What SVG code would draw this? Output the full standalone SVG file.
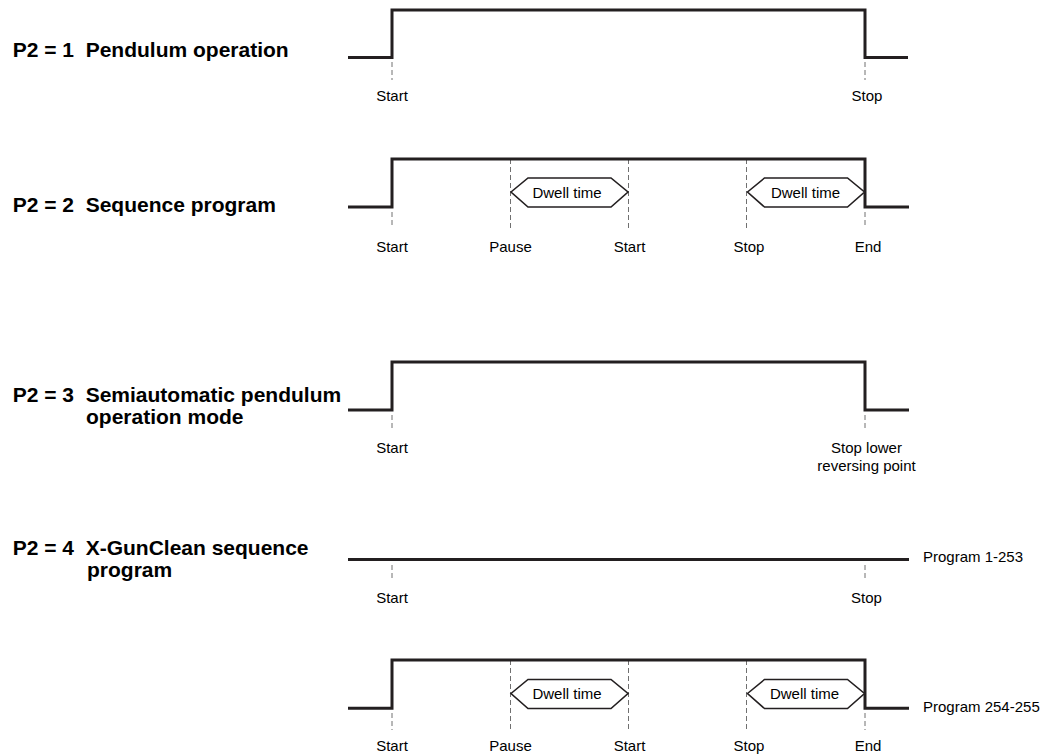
<svg xmlns="http://www.w3.org/2000/svg" width="1061" height="756" viewBox="0 0 1061 756">
  <style>
    .title { font-family: "Liberation Sans", Arial, sans-serif; font-weight: bold; font-size: 21px; fill: #000; }
    .lbl { font-family: "Liberation Sans", Arial, sans-serif; font-size: 15px; fill: #000; text-anchor: middle; }
    .side { font-family: "Liberation Sans", Arial, sans-serif; font-size: 15px; fill: #000; }
    .sig { fill: none; stroke: #231f20; stroke-width: 3; stroke-linejoin: miter; stroke-linecap: butt; }
    .tick { fill: none; stroke: #707070; stroke-width: 1; stroke-dasharray: 5 3; }
    .hex { fill: #fff; stroke: #231f20; stroke-width: 1.6; stroke-linejoin: miter; }
    .hexlbl { font-family: "Liberation Sans", Arial, sans-serif; font-size: 15px; fill: #000; text-anchor: middle; }
  </style>
  <defs>
    <!-- dwell-time badge, local origin at the left point -->
    <polygon id="dwell" class="hex" points="0,0 17,-14 100,-14 117,0 100,15 17,15"/>
  </defs>

  <rect width="1061" height="756" fill="#fff"/>

  <!-- dashed time markers -->
  <g id="connectors">
    <path class="tick" d="M392,62V80 M865,62V80"/>
    <path class="tick" d="M392,212V228 M510.5,159V228 M628.5,159V228 M746.5,159V228 M865,212V228"/>
    <path class="tick" d="M392,415V431 M865,415V431"/>
    <path class="tick" d="M392,565V581 M865,565V581"/>
    <path class="tick" d="M392,713V730 M510.5,660V730 M628.5,660V730 M746.5,660V730 M865,713V730"/>
  </g>

  <!-- P2 = 1 -->
  <g id="mode1">
    <text class="title" x="12.7" y="57.3" xml:space="preserve">P2 = 1  Pendulum operation</text>
    <path class="sig" d="M348,57.5H392V10H865V57.5H908"/>
    <text class="lbl" x="392" y="101">Start</text>
    <text class="lbl" x="867" y="101">Stop</text>
  </g>

  <!-- P2 = 2 -->
  <g id="mode2">
    <text class="title" x="12.7" y="212.3" xml:space="preserve">P2 = 2  Sequence program</text>
    <path class="sig" d="M348,207H392V159H865V207H909"/>
    <use href="#dwell" x="511" y="192"/>
    <text class="hexlbl" x="567" y="197.5">Dwell time</text>
    <use href="#dwell" x="747.5" y="192"/>
    <text class="hexlbl" x="805.5" y="197.5">Dwell time</text>
    <text class="lbl" x="392" y="252">Start</text>
    <text class="lbl" x="510.5" y="252">Pause</text>
    <text class="lbl" x="629.5" y="252">Start</text>
    <text class="lbl" x="749" y="252">Stop</text>
    <text class="lbl" x="868" y="252">End</text>
  </g>

  <!-- P2 = 3 -->
  <g id="mode3">
    <text class="title" x="12.7" y="401.7" xml:space="preserve">P2 = 3  Semiautomatic pendulum</text>
    <text class="title" x="86" y="423.5">operation mode</text>
    <path class="sig" d="M348,410H392V362H865V410H909"/>
    <text class="lbl" x="392" y="453">Start</text>
    <text class="lbl" x="866.5" y="453">Stop lower</text>
    <text class="lbl" x="866.5" y="471">reversing point</text>
  </g>

  <!-- P2 = 4 -->
  <g id="mode4">
    <text class="title" x="12.7" y="555" xml:space="preserve">P2 = 4  X-GunClean sequence</text>
    <text class="title" x="87" y="577">program</text>
  </g>

  <!-- Program 1-253 -->
  <g id="prog1-253">
    <path class="sig" d="M348,559.5H909"/>
    <text class="side" x="923" y="562">Program 1-253</text>
    <text class="lbl" x="392" y="603">Start</text>
    <text class="lbl" x="866.5" y="603">Stop</text>
  </g>

  <!-- Program 254-255 -->
  <g id="prog254-255">
    <path class="sig" d="M348,708.3H392V660H865V708.3H909"/>
    <use href="#dwell" x="511" y="693.5"/>
    <text class="hexlbl" x="567" y="699">Dwell time</text>
    <use href="#dwell" x="747.5" y="693.5"/>
    <text class="hexlbl" x="804.5" y="699">Dwell time</text>
    <text class="side" x="923" y="712">Program 254-255</text>
    <text class="lbl" x="392" y="751">Start</text>
    <text class="lbl" x="510.5" y="751">Pause</text>
    <text class="lbl" x="629.5" y="751">Start</text>
    <text class="lbl" x="749" y="751">Stop</text>
    <text class="lbl" x="868" y="751">End</text>
  </g>
</svg>
